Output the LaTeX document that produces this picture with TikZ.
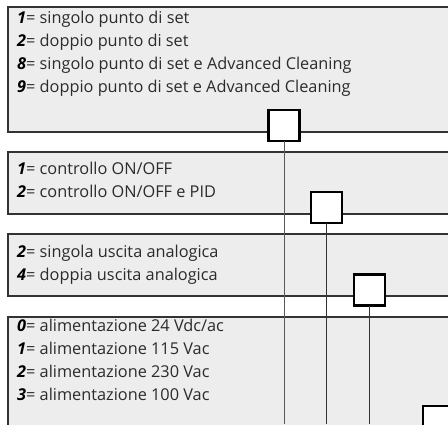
\documentclass[tikz,border=0pt]{standalone}
\usepackage{fontspec}
\setmainfont{Open Sans}
\definecolor{panelfill}{HTML}{ECEDEC}
\definecolor{paneldraw}{HTML}{333333}
\definecolor{txt}{HTML}{2B2B2B}
\newcommand{\dg}[1]{{\color{black}\bfseries\itshape #1}}
\begin{document}
\begin{tikzpicture}[x=1pt,y=-1pt,
 panel/.style={draw=paneldraw,fill=panelfill,line width=1.1pt},
 selbox/.style={draw=black,fill=white,line width=2.2pt,minimum width=31pt,minimum height=31pt,inner sep=0pt,outer sep=0pt},
 wire/.style={draw=black!80,line width=0.9pt},
 item/.style={anchor=base west,inner sep=0pt,font=\fontsize{16.3}{18}\selectfont,text=txt}]
\useasboundingbox (0,0) rectangle (448,424);
\fill[white] (0,0) rectangle (448,424);
% panels
\draw[panel] (8,7) rectangle (470,132);
\draw[panel] (8,152) rectangle (470,214);
\draw[panel] (8,234) rectangle (470,296);
\draw[panel] (8,317) rectangle (470,470);
% texts
\node[item] (p1a) at (17,23.5) {\dg{1}= singolo punto di set};
\node[item] (p1b) at (17,46.5) {\dg{2}= doppio punto di set};
\node[item] (p1c) at (17,69.5) {\dg{8}= singolo punto di set e Advanced Cleaning};
\node[item] (p1d) at (17,92.5) {\dg{9}= doppio punto di set e Advanced Cleaning};
\node[item] (p2a) at (17,174) {\dg{1}= controllo ON/OFF};
\node[item] (p2b) at (17,197) {\dg{2}= controllo ON/OFF e PID};
\node[item] (p3a) at (17,257) {\dg{2}= singola uscita analogica};
\node[item] (p3b) at (17,280) {\dg{4}= doppia uscita analogica};
\node[item] (p4a) at (17,331.5) {\dg{0}= alimentazione 24 Vdc/ac};
\node[item] (p4b) at (17,354.5) {\dg{1}= alimentazione 115 Vac};
\node[item] (p4c) at (17,377.5) {\dg{2}= alimentazione 230 Vac};
\node[item] (p4d) at (17,400.5) {\dg{3}= alimentazione 100 Vac};
% wire ends
\coordinate (e1) at (284,424);
\coordinate (e2) at (326.5,424);
\coordinate (e3) at (369.5,424);
% boxes
\node[selbox] (b1) at (284,125.5) {};
\node[selbox] (b2) at (326.5,207.5) {};
\node[selbox] (b3) at (369.5,290) {};
\node[selbox] (b4) at (438.5,421.5) {};
\draw[wire,draw=black!65] (b1.south) -- (e1);
\draw[wire] (b2.south) -- (e2);
\draw[wire] (b3.south) -- (e3);
\end{tikzpicture}
\end{document}
